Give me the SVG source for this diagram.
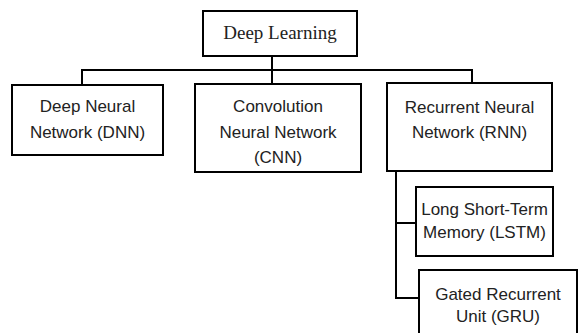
<svg xmlns="http://www.w3.org/2000/svg" width="587" height="333" viewBox="0 0 587 333">
<style>
rect{fill:#fff;stroke:#000;stroke-width:2}
.c line{stroke:#000;stroke-width:2}
text{font-family:"Liberation Sans",Arial,sans-serif;font-size:17px;fill:#222;text-anchor:middle}
text.s{font-family:"Liberation Serif","Times New Roman",serif;font-size:19px}
</style>
<rect x="0" y="0" width="587" height="333" style="stroke:none"/>
<g id="connectors" class="c">
<line x1="272" y1="56" x2="272" y2="84"/>
<line x1="82" y1="70" x2="473" y2="70"/>
<line x1="82" y1="69" x2="82" y2="85"/>
<line x1="472" y1="69" x2="472" y2="83"/>
<line x1="396" y1="171" x2="396" y2="299"/>
<line x1="395" y1="223" x2="417" y2="223"/>
<line x1="395" y1="298" x2="420" y2="298"/>
</g>
<g id="deep-learning">
<rect x="203" y="11" width="154" height="45"/>
<text class="s" x="280" y="39">Deep Learning</text>
</g>
<g id="dnn">
<rect x="12" y="85" width="151" height="70"/>
<text x="87.5" y="112">Deep Neural</text>
<text x="87.5" y="138">Network (DNN)</text>
</g>
<g id="cnn">
<rect x="195" y="84" width="166" height="88"/>
<text x="278" y="112">Convolution</text>
<text x="278" y="138">Neural Network</text>
<text x="278" y="163">(CNN)</text>
</g>
<g id="rnn">
<rect x="387" y="83" width="165" height="88"/>
<text x="469.5" y="113">Recurrent Neural</text>
<text x="469.5" y="138">Network (RNN)</text>
</g>
<g id="lstm">
<rect x="416" y="187" width="137" height="69"/>
<text x="484.5" y="215">Long Short-Term</text>
<text x="484.5" y="238">Memory (LSTM)</text>
</g>
<g id="gru">
<rect x="419" y="270" width="158" height="80"/>
<text x="498" y="300">Gated Recurrent</text>
<text x="498" y="322">Unit (GRU)</text>
</g>
</svg>
